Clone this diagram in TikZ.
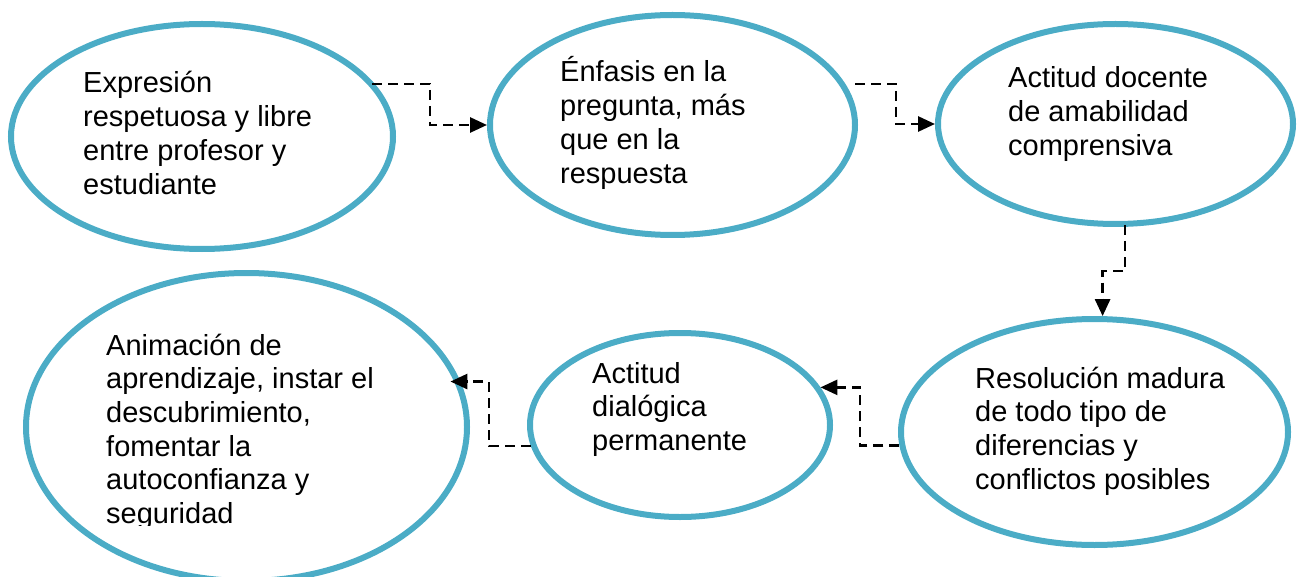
\documentclass[tikz,border=0pt]{standalone}
\usepackage{fontspec}
\setmainfont{Liberation Sans}
\usetikzlibrary{shapes.geometric,arrows.meta}
\definecolor{ringblue}{HTML}{4BACC6}
\tikzset{
  ring/.style={ellipse, draw=ringblue, line width=6pt, inner sep=0pt},
  txt/.style={anchor=base west, inner sep=0pt, font=\fontsize{29}{33.7}\selectfont},
  conn/.style={draw=black, line width=2.8pt, dash pattern=on 10pt off 6pt,
    -{Triangle[length=17pt,width=15pt]}}
}
\begin{document}
\begin{tikzpicture}[x=1pt,y=-1pt]
\useasboundingbox (0,0) rectangle (1297,577);
% ellipses
\node[ring, minimum width=382pt, minimum height=225pt] (e1) at (202,136.5) {};
\node[ring, minimum width=365pt, minimum height=220pt] (e2) at (672.5,125) {};
\node[ring, minimum width=355pt, minimum height=200pt] (e3) at (1115.5,124) {};
\node[ring, minimum width=387pt, minimum height=226pt] (e4) at (1094.5,432) {};
\node[ring, minimum width=300pt, minimum height=184pt] (e5) at (680,425) {};
\node[ring, minimum width=441pt, minimum height=308pt] (e6) at (246.5,427) {};
% texts
\node[txt] (t1) at (83,93) {\begin{tabular}[t]{@{}l@{}}Expresión\\respetuosa y libre\\entre profesor y\\estudiante\end{tabular}};
\node[txt] (t2) at (560,82) {\begin{tabular}[t]{@{}l@{}}Énfasis en la\\pregunta, más\\que en la\\respuesta\end{tabular}};
\node[txt] (t3) at (1008,88) {\begin{tabular}[t]{@{}l@{}}Actitud docente\\de amabilidad\\comprensiva\end{tabular}};
\node[txt] (t4) at (975,388) {\begin{tabular}[t]{@{}l@{}}Resolución madura\\de todo tipo de\\diferencias y\\conflictos posibles\end{tabular}};
\node[txt] (t5) at (592,383) {\begin{tabular}[t]{@{}l@{}}Actitud\\dialógica\\permanente\end{tabular}};
\begin{scope}
\clip (0,0) rectangle (1297,525);
\node[txt] (t6) at (106,355) {\begin{tabular}[t]{@{}l@{}}Animación de\\aprendizaje, instar el\\descubrimiento,\\fomentar la\\autoconfianza y\\seguridad\end{tabular}};
\end{scope}
% connector helper points
\coordinate (s12) at (372,84);
\coordinate (c12) at (430,105);
\coordinate (s23) at (855,84);
\coordinate (c23) at (896,105);
\coordinate (s34) at (1125,225);
\coordinate (c34) at (1125,271);
\coordinate (c45) at (860,415);
\coordinate (c56) at (489,415);
% connectors
\draw[conn] (s12) -| (c12) |- (e2.west);
\draw[conn] (s23) -| (c23) |- (e3.west);
\draw[conn] (s34) -- (c34) -| (e4.86.6);
\draw[conn] (e4.184) -| (c45) |- (e5.15.7);
\draw[conn] (e5.188) -| (c56) |- ([xshift=-10pt]e6.12);
\end{tikzpicture}
\end{document}
